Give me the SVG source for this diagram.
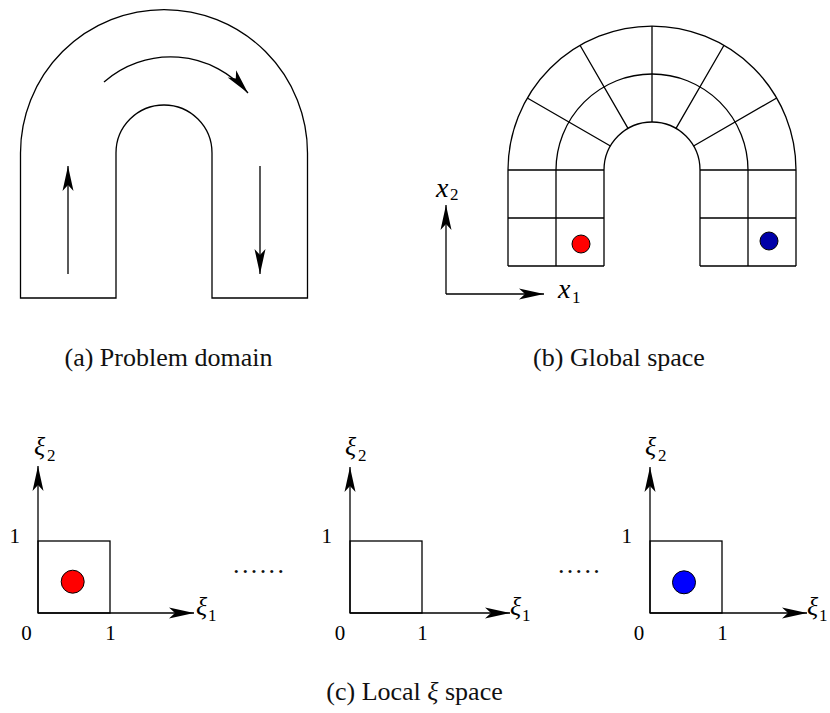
<svg xmlns="http://www.w3.org/2000/svg" width="830" height="713" viewBox="0 0 830 713">
<style>
.ln{fill:none;stroke:#000;stroke-width:1.3}
.ax{fill:none;stroke:#000;stroke-width:1.3;marker-end:url(#ah)}
.cap{font-family:"Liberation Serif",serif;font-size:26px;fill:#111}
.mi{font-family:"Liberation Serif",serif;font-style:italic;fill:#000}
.num{font-family:"Liberation Serif",serif;font-size:21px;fill:#000}
.sub{font-family:"Liberation Serif",serif;font-size:17px;font-style:normal;fill:#000}
.dot{stroke:#000;stroke-width:1}
</style>
<defs>
<marker id="ah" markerUnits="userSpaceOnUse" orient="auto" refX="0" refY="0" markerWidth="30" markerHeight="14" viewBox="-26 -7 30 14" overflow="visible">
<path d="M0,0 L-25,-5.5 L-19,0 L-25,5.5 Z" fill="#000"/>
</marker>
</defs>

<g id="panel-a">
<path class="ln" d="M20.5,298 L20.5,153 A143.5,143.5 0 0 1 307.5,153 L307.5,298 L212,298 L212,153 A48,48 0 0 0 116,153 L116,298 Z"/>
</g>
<g id="connectors">
<path class="ax" d="M68,274 L68,166"/>
<path class="ax" d="M260,166 L260,274"/>
<path class="ax" d="M104,82 A101,101 0 0 1 248,93"/>
<path class="ax" d="M446,294 L446,205"/>
<path class="ax" d="M446,294 L544,294"/>
<path class="ax" d="M38,613 L38,466"/>
<path class="ax" d="M38,613 L194,613"/>
<path class="ax" d="M350,613 L350,467"/>
<path class="ax" d="M350,613 L510,613"/>
<path class="ax" d="M650,613 L650,467"/>
<path class="ax" d="M650,613 L807,613"/>
</g>
<text class="cap" x="168.5" y="366" text-anchor="middle">(a) Problem domain</text>

<g id="panel-b">
<path class="ln" d="M508,266 L508,170 A144,144 0 0 1 796,170 L796,266"/>
<path class="ln" d="M556,266 L556,170 A96,96 0 0 1 748,170 L748,266"/>
<path class="ln" d="M604,266 L604,170 A48,48 0 0 1 700,170 L700,266"/>
<path class="ln" d="M508,266 H604 M700,266 H796 M508,170 H604 M700,170 H796 M508,218 H604 M700,218 H796"/>
<path class="ln" d="M652,122 L652,26 M676,128.43 L724,45.29 M628,128.43 L580,45.29 M693.57,146 L776.71,98 M610.43,146 L527.29,98"/>
<circle class="dot" cx="581" cy="244" r="9" fill="#ff0000"/>
<circle class="dot" cx="769" cy="241" r="9" fill="#0000a8"/>
<text class="mi" font-size="28" x="436" y="197">x<tspan class="sub" x="450" y="200">2</tspan></text>
<text class="mi" font-size="28" x="558" y="298">x<tspan class="sub" x="572" y="303">1</tspan></text>
</g>
<text class="cap" x="619" y="366" text-anchor="middle">(b) Global space</text>

<g id="panel-c1">
<rect class="ln" x="38" y="541" width="72" height="72"/>
<circle class="dot" cx="72.7" cy="581.7" r="11.5" fill="#ff0000"/>
<text class="num" x="20" y="543" text-anchor="end">1</text>
<text class="num" x="26.5" y="640" text-anchor="middle">0</text>
<text class="num" x="110.5" y="640" text-anchor="middle">1</text>
<text class="mi" font-size="26" x="34" y="455">ξ<tspan class="sub" x="47" y="461">2</tspan></text>
<text class="mi" font-size="26" x="196" y="615">ξ<tspan class="sub" x="208" y="621">1</tspan></text>
</g>
<text class="cap" x="233" y="573" letter-spacing="2.4">......</text>

<g id="panel-c2">
<rect class="ln" x="350" y="541" width="72" height="72"/>
<text class="num" x="332" y="543" text-anchor="end">1</text>
<text class="num" x="340" y="640" text-anchor="middle">0</text>
<text class="num" x="422.5" y="640" text-anchor="middle">1</text>
<text class="mi" font-size="26" x="345" y="455">ξ<tspan class="sub" x="358" y="461">2</tspan></text>
<text class="mi" font-size="26" x="510" y="615">ξ<tspan class="sub" x="522" y="621">1</tspan></text>
</g>
<text class="cap" x="558" y="573" letter-spacing="2.3">.....</text>

<g id="panel-c3">
<rect class="ln" x="650" y="541" width="72" height="72"/>
<circle class="dot" cx="684" cy="582.3" r="11.5" fill="#0000ff"/>
<text class="num" x="632" y="543" text-anchor="end">1</text>
<text class="num" x="639" y="640" text-anchor="middle">0</text>
<text class="num" x="722.5" y="640" text-anchor="middle">1</text>
<text class="mi" font-size="26" x="645" y="455">ξ<tspan class="sub" x="658" y="461">2</tspan></text>
<text class="mi" font-size="26" x="807" y="615">ξ<tspan class="sub" x="819" y="621">1</tspan></text>
</g>
<text class="cap" x="414.5" y="700" text-anchor="middle">(c) Local <tspan font-style="italic">ξ</tspan> space</text>
</svg>
